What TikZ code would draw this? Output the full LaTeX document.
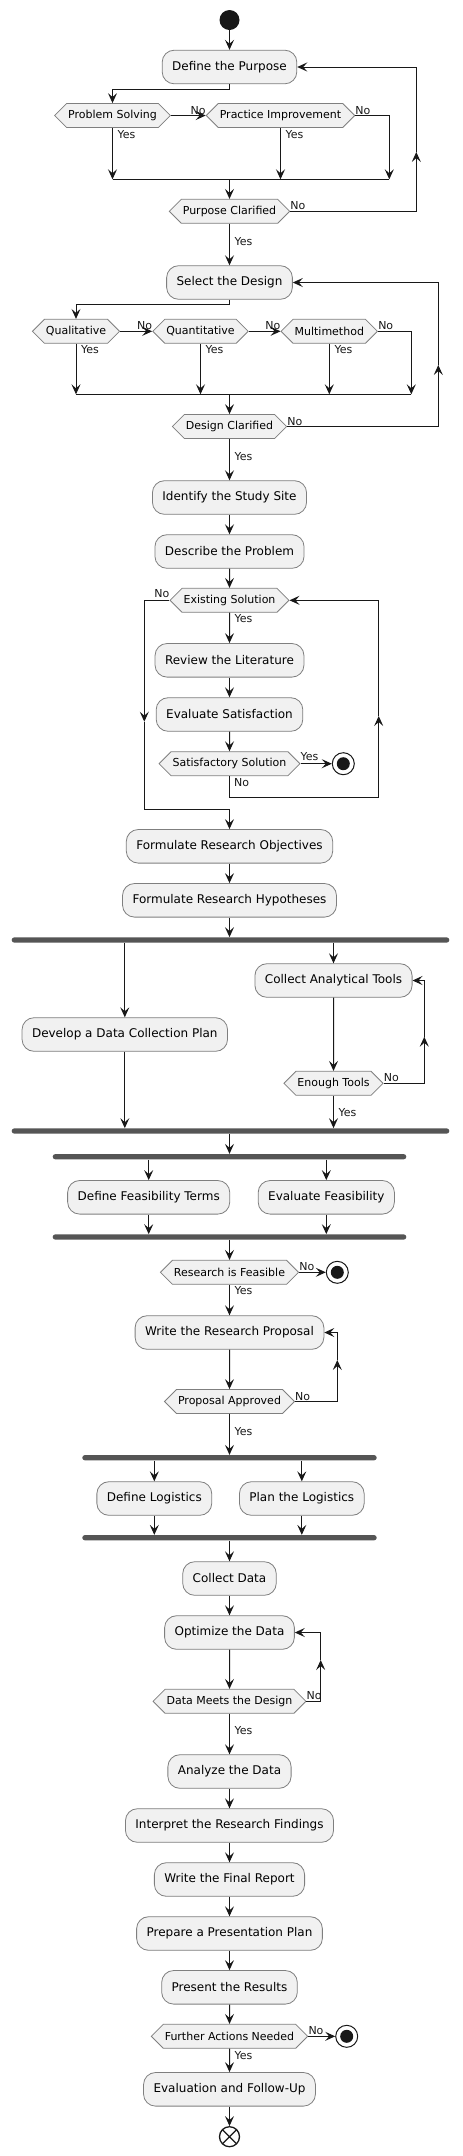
\documentclass[tikz,border=0pt]{standalone}
\usepackage{fontspec}
\setmainfont{DejaVu Sans}
\usetikzlibrary{shapes.symbols, arrows.meta}

\definecolor{boxfill}{HTML}{F1F1F1}
\definecolor{boxline}{HTML}{7F7F7F}
\definecolor{ink}{HTML}{181818}
\definecolor{barcol}{HTML}{555555}

\begin{document}
\begin{tikzpicture}[
    x=1pt, y=-1pt,
    act/.style={draw=boxline, line width=0.8, fill=boxfill, rounded corners=12, minimum height=33.6, inner xsep=10, inner ysep=0, font=\fontsize{12}{14}\selectfont},
    test/.style={shape=signal, signal to=east and west, draw=boxline, line width=0.8, fill=boxfill, minimum height=24, inner xsep=1.5, inner ysep=0, font=\fontsize{11}{13}\selectfont},
    bar/.style={fill=barcol, rounded corners=2.6, minimum height=5.3, inner sep=0},
    startdot/.style={circle, fill=ink, minimum size=20, inner sep=0},
    enddot/.style={circle, draw=ink, line width=1, fill=white, minimum size=22, inner sep=0,
        path picture={\fill[ink] (path picture bounding box.center) circle (6.5);}},
    stopx/.style={circle, draw=ink, line width=1.3, fill=white, minimum size=20, inner sep=0,
        path picture={\draw[ink, line width=1.3] (path picture bounding box.north east) -- (path picture bounding box.south west)
            (path picture bounding box.north west) -- (path picture bounding box.south east);}},
    flow/.style={draw=ink, line width=1, -{Stealth[length=10, width=9, inset=4]}},
    plain/.style={draw=ink, line width=1},
    lbl/.style={inner sep=0, font=\fontsize{11}{13}\selectfont, text=ink}
]
\useasboundingbox (0,0) rectangle (463,2156);

% purpose
\node[startdot] (start) at (229.5,20) {};
\node[act] (purpose) at (229.5,67) {Define the Purpose};
\node[test] (probsolv) at (112.5,115.5) {Problem Solving};
\node[test] (practice) at (280.5,115.5) {Practice Improvement};
\node[test] (pclar) at (229.5,211.3) {Purpose Clarified};
\coordinate (merge1) at (389.3,179.3);
\coordinate (loop1) at (416.3,152);

\draw[flow] (start) -- (purpose);
\draw[flow] (purpose.south) -- ++(0,5.3) -| (probsolv.north);
\draw[flow] (probsolv.east) -- (practice.west);
\draw[flow] (probsolv.south) -- (probsolv.south |- merge1);
\draw[flow] (practice.south) -- (practice.south |- merge1);
\draw[flow] (practice.east) -| (merge1);
\draw[plain] (probsolv.south |- merge1) -- (merge1);
\draw[flow] (pclar.north |- merge1) -- (pclar.north);
\draw[flow] (pclar.east) -| (loop1);
\draw[flow] (loop1) |- (purpose.east);

\node[lbl, anchor=base east] at ([yshift=1.5pt]practice.west) {No};
\node[lbl, anchor=base west] at ([yshift=1.5pt]practice.east) {No};
\node[lbl, anchor=base west] at ([xshift=5pt,yshift=-10.5pt]probsolv.south) {Yes};
\node[lbl, anchor=base west] at ([xshift=5pt,yshift=-10.5pt]practice.south) {Yes};
\node[lbl, anchor=base west] at ([yshift=1.5pt]pclar.east) {No};
\node[lbl, anchor=base west] at ([xshift=5pt,yshift=-21.5pt]pclar.south) {Yes};

% design
\node[act] (select) at (229.5,282.5) {Select the Design};
\node[test] (qual) at (76,331.3) {Qualitative};
\node[test] (quant) at (200.5,331.3) {Quantitative};
\node[test] (multi) at (329.3,331.3) {Multimethod};
\node[test] (dclar) at (229.5,426.5) {Design Clarified};
\coordinate (merge2) at (411.3,394.3);
\coordinate (loop2) at (438.3,365);

\draw[flow] (pclar.south) -- (select.north);
\draw[flow] (select.south) -- ++(0,5) -| (qual.north);
\draw[flow] (qual.east) -- (quant.west);
\draw[flow] (quant.east) -- (multi.west);
\draw[flow] (qual.south) -- (qual.south |- merge2);
\draw[flow] (quant.south) -- (quant.south |- merge2);
\draw[flow] (multi.south) -- (multi.south |- merge2);
\draw[flow] (multi.east) -| (merge2);
\draw[plain] (qual.south |- merge2) -- (merge2);
\draw[flow] (dclar.north |- merge2) -- (dclar.north);
\draw[flow] (dclar.east) -| (loop2);
\draw[flow] (loop2) |- (select.east);

\node[lbl, anchor=base east] at ([yshift=1.5pt]quant.west) {No};
\node[lbl, anchor=base east] at ([yshift=1.5pt]multi.west) {No};
\node[lbl, anchor=base west] at ([yshift=1.5pt]multi.east) {No};
\node[lbl, anchor=base west] at ([xshift=5pt,yshift=-10pt]qual.south) {Yes};
\node[lbl, anchor=base west] at ([xshift=5pt,yshift=-10pt]quant.south) {Yes};
\node[lbl, anchor=base west] at ([xshift=5pt,yshift=-10pt]multi.south) {Yes};
\node[lbl, anchor=base west] at ([yshift=1.5pt]dclar.east) {No};
\node[lbl, anchor=base west] at ([xshift=5pt,yshift=-21.5pt]dclar.south) {Yes};

% site, problem, literature
\node[act] (identify) at (229.5,497.5) {Identify the Study Site};
\node[act] (describe) at (229.5,551.5) {Describe the Problem};
\node[test] (exist) at (229.5,600.3) {Existing Solution};
\node[act] (review) at (229.5,660.3) {Review the Literature};
\node[act] (evalsat) at (229.5,714.5) {Evaluate Satisfaction};
\node[test] (sat) at (229.5,763.7) {Satisfactory Solution};
\node[enddot] (end1) at (343.3,763.7) {};
\coordinate (loopL) at (144.3,721.7);
\coordinate (loopR) at (378.7,716);
\coordinate (back1) at (229.5,809.3);

\draw[flow] (dclar.south) -- (identify.north);
\draw[flow] (identify) -- (describe);
\draw[flow] (describe) -- (exist);
\draw[flow] (exist) -- (review);
\draw[flow] (review) -- (evalsat);
\draw[flow] (evalsat) -- (sat);
\draw[flow] (sat.east) -- (end1.west);
\draw[flow] (exist.west) -| (loopL);
\draw[flow] (sat.south) -- ++(0,21.6) -| (loopR);
\draw[flow] (loopR) |- (exist.east);

\node[lbl, anchor=base east] at ([yshift=3pt]exist.west) {No};
\node[lbl, anchor=base west] at ([xshift=5pt,yshift=-10pt]exist.south) {Yes};
\node[lbl, anchor=base west] at ([yshift=3pt]sat.east) {Yes};
\node[lbl, anchor=base west] at ([xshift=4.5pt,yshift=-10.6pt]sat.south) {No};

% objectives, hypotheses, tools
\node[act] (objectives) at (229.5,846.3) {Formulate Research Objectives};
\node[act] (hyp) at (229.5,900.3) {Formulate Research Hypotheses};
\node[bar, minimum width=437.6] (fork1) at (230.5,940) {};
\node[act] (dev) at (124.8,1034.5) {Develop a Data Collection Plan};
\node[act] (collect) at (333.5,980.5) {Collect Analytical Tools};
\node[test] (enough) at (333.5,1083.3) {Enough Tools};
\node[bar, minimum width=437.6] (join1) at (230.5,1131) {};
\coordinate (loopE) at (424.3,1036.7);

\draw[flow] (loopL) |- (back1) -- (objectives.north);
\draw[flow] (objectives) -- (hyp);
\draw[flow] (hyp.south) -- (hyp.south |- fork1.north);
\draw[flow] (dev.north |- fork1.south) -- (dev.north);
\draw[flow] (collect.north |- fork1.south) -- (collect.north);
\draw[flow] (collect) -- (enough);
\draw[flow] (enough.east) -| (loopE);
\draw[flow] (loopE) |- (collect.east);
\draw[flow] (dev.south) -- (dev.south |- join1.north);
\draw[flow] (enough.south) -- (enough.south |- join1.north);

\node[lbl, anchor=base west] at ([yshift=1.5pt]enough.east) {No};
\node[lbl, anchor=base west] at ([xshift=5pt,yshift=-20.7pt]enough.south) {Yes};

% feasibility, proposal
\node[bar, minimum width=353.6] (fork2) at (229.5,1156.7) {};
\node[act] (terms) at (148.7,1197.3) {Define Feasibility Terms};
\node[act] (evalfeas) at (326.3,1197.3) {Evaluate Feasibility};
\node[bar, minimum width=353.6] (join2) at (229.5,1237) {};
\node[test] (feasible) at (229.5,1272.3) {Research is Feasible};
\node[enddot] (end2) at (337.3,1272.3) {};
\node[act] (write) at (229.5,1332.5) {Write the Research Proposal};
\node[test] (approved) at (229.5,1401.5) {Proposal Approved};
\coordinate (loopP) at (337.3,1360);

\draw[flow] (fork2.north |- join1.south) -- (fork2.north);
\draw[flow] (terms.north |- fork2.south) -- (terms.north);
\draw[flow] (evalfeas.north |- fork2.south) -- (evalfeas.north);
\draw[flow] (terms.south) -- (terms.south |- join2.north);
\draw[flow] (evalfeas.south) -- (evalfeas.south |- join2.north);
\draw[flow] (join2.south) -- (feasible.north);
\draw[flow] (feasible.east) -- (end2.west);
\draw[flow] (feasible) -- (write);
\draw[flow] (write) -- (approved);
\draw[flow] (approved.east) -| (loopP);
\draw[flow] (loopP) |- (write.east);

\node[lbl, anchor=base west] at ([yshift=1.5pt]feasible.east) {No};
\node[lbl, anchor=base west] at ([xshift=5pt,yshift=-10pt]feasible.south) {Yes};
\node[lbl, anchor=base west] at ([yshift=1.5pt]approved.east) {No};
\node[lbl, anchor=base west] at ([xshift=5pt,yshift=-21.3pt]approved.south) {Yes};

% logistics, data
\node[bar, minimum width=294.4] (fork3) at (229.5,1457.7) {};
\node[act] (deflog) at (154.3,1498.5) {Define Logistics};
\node[act] (planlog) at (301.8,1498.5) {Plan the Logistics};
\node[bar, minimum width=294.4] (join3) at (229.5,1537.7) {};
\node[act] (collectdata) at (229.5,1578.5) {Collect Data};
\node[act] (optimize) at (229.5,1632.5) {Optimize the Data};
\node[test] (meets) at (229.5,1701.3) {Data Meets the Design};
\coordinate (loopO) at (320.7,1660);

\draw[flow] (approved.south) -- (approved.south |- fork3.north);
\draw[flow] (deflog.north |- fork3.south) -- (deflog.north);
\draw[flow] (planlog.north |- fork3.south) -- (planlog.north);
\draw[flow] (deflog.south) -- (deflog.south |- join3.north);
\draw[flow] (planlog.south) -- (planlog.south |- join3.north);
\draw[flow] (join3.south) -- (collectdata.north);
\draw[flow] (collectdata) -- (optimize);
\draw[flow] (optimize) -- (meets);
\draw[flow] (meets.east) -| (loopO);
\draw[flow] (loopO) |- (optimize.east);

\node[lbl, anchor=base west] at ([yshift=1.5pt]meets.east) {No};
\node[lbl, anchor=base west] at ([xshift=5pt,yshift=-20.7pt]meets.south) {Yes};

% analysis to the end
\node[act] (analyze) at (229.5,1771.5) {Analyze the Data};
\node[act] (interpret) at (229.5,1825.5) {Interpret the Research Findings};
\node[act] (report) at (229.5,1879.5) {Write the Final Report};
\node[act] (presplan) at (229.5,1933.5) {Prepare a Presentation Plan};
\node[act] (present) at (229.5,1987.3) {Present the Results};
\node[test] (further) at (229.5,2036.3) {Further Actions Needed};
\node[enddot] (end3) at (346.7,2036.3) {};
\node[act] (follow) at (229.5,2089.3) {Evaluation and Follow-Up};
\node[stopx] (stop) at (229.5,2136.7) {};

\draw[flow] (meets) -- (analyze);
\draw[flow] (analyze) -- (interpret);
\draw[flow] (interpret) -- (report);
\draw[flow] (report) -- (presplan);
\draw[flow] (presplan) -- (present);
\draw[flow] (present) -- (further);
\draw[flow] (further.east) -- (end3.west);
\draw[flow] (further) -- (follow);
\draw[flow] (follow) -- (stop);

\node[lbl, anchor=base west] at ([yshift=1.5pt]further.east) {No};
\node[lbl, anchor=base west] at ([xshift=5pt,yshift=-10.7pt]further.south) {Yes};
\end{tikzpicture}
\end{document}
